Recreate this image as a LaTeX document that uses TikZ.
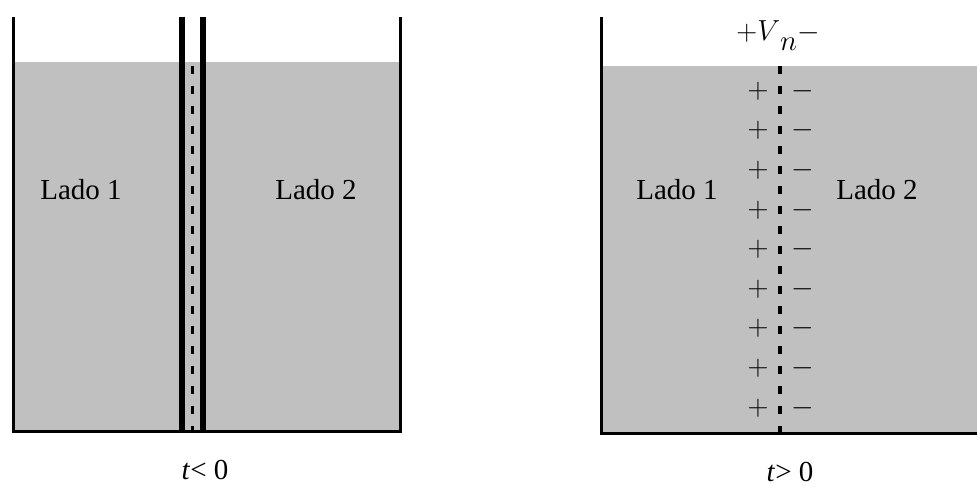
\RequirePackage{fix-cm}
\documentclass[tikz,border=0pt]{standalone}
\usepackage{fontspec}
\setmainfont{Liberation Serif}
\definecolor{agua}{RGB}{192,192,192}
\begin{document}
\begin{tikzpicture}[x=1pt, y=-1pt,
   wall/.style={line width=3pt},
   bar/.style={line width=5.5pt},
   poros/.style={line width=3.5pt, dash pattern=on 8pt off 12pt},
   every node/.style={font=\fontsize{29}{34}\selectfont, inner sep=0pt}]

\useasboundingbox (0,0) rectangle (977,500);

% t < 0
\fill[agua] (13,62) rectangle (400,431);
\draw[wall] (13,17) -- (13,431) -- (400,431) -- (400,17);
\draw[bar] (182,17) -- (182,431);
\draw[bar] (203,17) -- (203,431);
\draw[poros, line width=3pt] (192.5,66) -- (192.5,431);
\node (lado1a) at (81,190) {Lado 1};
\node (lado2a) at (316,190) {Lado 2};
\node (antes) at (205,470) {\textit{t}< 0};

% t > 0
\fill[agua] (601,66) rectangle (977,433);
\draw[wall] (601,17) -- (601,433) -- (977,433);
\draw[poros] (780,66) -- (780,433);
\node (lado1b) at (677,190) {Lado 1};
\node (lado2b) at (877,190) {Lado 2};
\node (vn) at (778,36) {$+V\raisebox{-0.35em}{$n$}-$};
\foreach \i in {0,...,8}{
    \node (mas\i) at (758,91+39.6*\i) {$+$};
    \node (menos\i) at (803,91+39.6*\i) {$-$};
}
\node (despues) at (790,472) {\textit{t}> 0};

\end{tikzpicture}
\end{document}
